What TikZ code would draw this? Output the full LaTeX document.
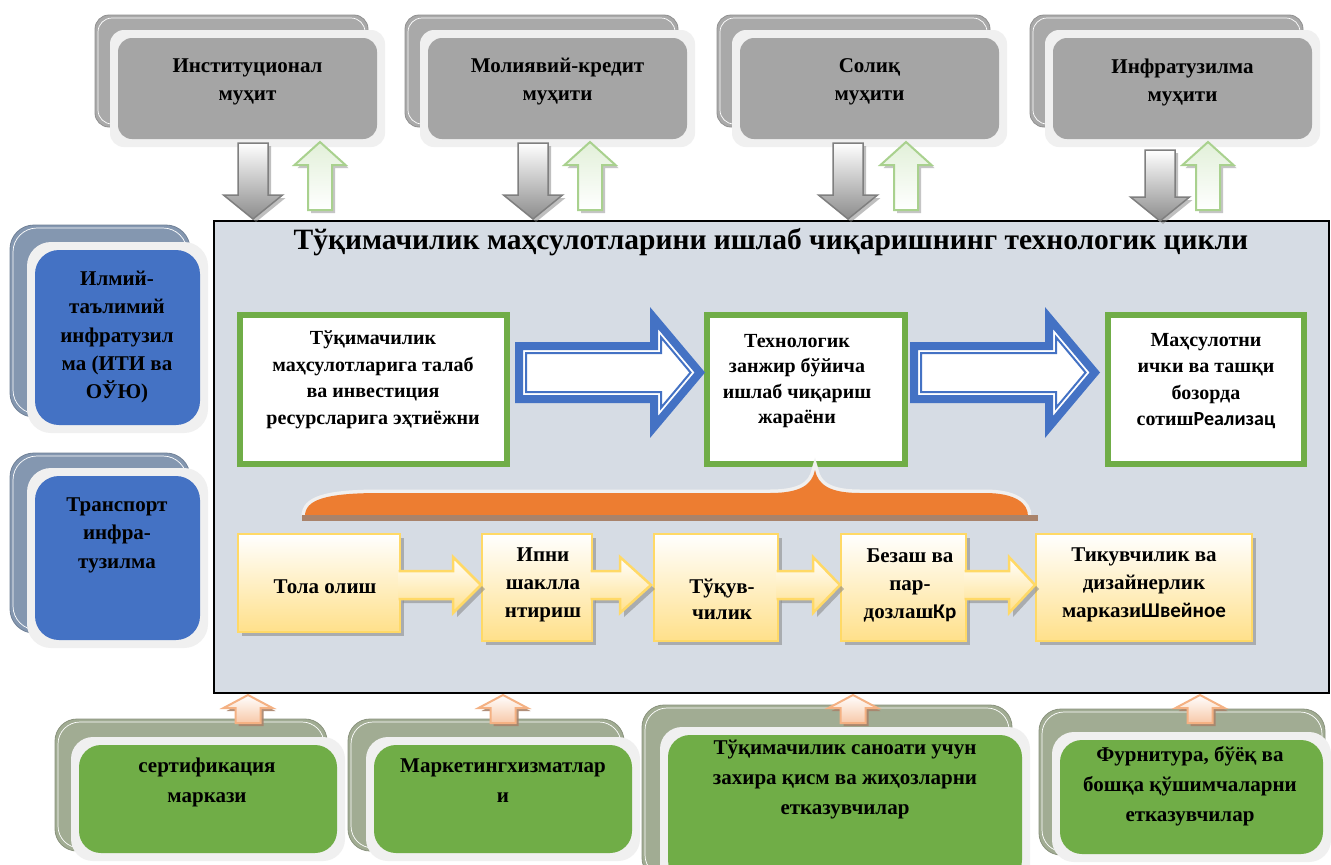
\documentclass[tikz,border=0pt]{standalone}
\usepackage{fontspec}
\setmainfont{Liberation Serif}
\newfontfamily\sanf{Carlito}
\usetikzlibrary{shadows}
\definecolor{grayback}{HTML}{A9A9A9}
\definecolor{graybox}{HTML}{A5A5A5}
\definecolor{frame}{HTML}{F0F0F0}
\definecolor{bluebox}{HTML}{4472C4}
\definecolor{blueback}{HTML}{8497B0}
\definecolor{greenbox}{HTML}{70AD47}
\definecolor{greenback}{HTML}{A1AC93}
\definecolor{panel}{HTML}{D6DCE4}
\definecolor{orangebr}{HTML}{ED7D31}
\definecolor{brownsh}{HTML}{A9836B}
\definecolor{yellowedge}{HTML}{FFD966}
\definecolor{yellowfill}{HTML}{FFE08A}
\definecolor{lightgreen}{HTML}{A9D18E}
\definecolor{palegreen}{HTML}{E2F0D9}
\definecolor{peach}{HTML}{F4B183}
\definecolor{arrgray}{HTML}{7F7F7F}
\newcommand\Stack[9]{%
  \draw[fill=#9back, draw=#9back!85!black, line width=0.8pt, rounded corners=\StackR] (#1,#2) rectangle (#3,#4);
  \draw[white, line width=0.7pt, rounded corners=\StackR] ({#1+3},{#2+3}) rectangle ({#3-3},{#4-3});
  \fill[frame, rounded corners=\StackR] (#5,#6) rectangle (#7,#8);
  \fill[#9box, rounded corners=\StackR] ({#5+8},{#6+8}) rectangle ({#7-8},{#8-8});
}
\newcommand\VArrow[7]{%
  \draw[#7] ({#1-#5},#2) -- ({#1-#5},#3) -- ({#1-#6},#3) -- (#1,#4) -- ({#1+#6},#3) -- ({#1+#5},#3) -- ({#1+#5},#2) -- cycle;
}
\newcommand\YArr[3]{%
  \draw[yarr] (#1,571) -- (#2,571) -- (#2,557) -- (#3,585) -- (#2,613) -- (#2,599) -- (#1,599);
}
\begin{document}
\begin{tikzpicture}[x=1pt,y=-1pt,
  txt/.style={font=\bfseries\fontsize{20}{28}\selectfont, align=center, text=black, inner sep=0pt},
  toptxt/.style={txt, font=\bfseries\fontsize{21}{28}\selectfont},
  bigtxt/.style={txt, font=\bfseries\fontsize{21}{28.5}\selectfont},
  bottxt/.style={txt, font=\bfseries\fontsize{21}{30}\selectfont},
  gbox/.style={draw=greenbox, line width=6pt, fill=white, inner sep=0pt},
  ybox/.style={draw=yellowedge, line width=2.5pt, top color=white, bottom color=yellowfill, inner sep=0pt,
    drop shadow={shadow xshift=4pt, shadow yshift=-4pt, fill=black!45, opacity=0.6}},
  yarr/.style={draw=yellowedge, line width=2.5pt, top color=white, bottom color=yellowfill,
    drop shadow={shadow xshift=4pt, shadow yshift=-4pt, fill=black!45, opacity=0.6}},
  darr/.style={draw=arrgray, line width=1.5pt, top color=white, bottom color=black!45,
    drop shadow={shadow xshift=3pt, shadow yshift=-3pt, fill=black!50, opacity=0.5}},
  uarr/.style={draw=lightgreen, line width=2pt, top color=palegreen, bottom color=white,
    drop shadow={shadow xshift=3pt, shadow yshift=-3pt, fill=black!45, opacity=0.5}},
  oarr/.style={draw=peach, line width=2pt, top color=white, bottom color=peach!70,
    drop shadow={shadow xshift=3pt, shadow yshift=-3pt, fill=brownsh, opacity=0.9}},
  barrow/.style={draw=bluebox, line join=miter}
]
\useasboundingbox (0,0) rectangle (1331,865);
\fill[white] (0,0) rectangle (1331,865);

% central panel
\node[draw=black, line width=2pt, fill=panel, minimum width=1115pt, minimum height=472pt, inner sep=0pt, anchor=north west] (panel) at (213,220) {};
\node[txt, font=\bfseries\fontsize{29.5}{32}\selectfont] (title) at (771,242) {Тўқимачилик маҳсулотларини ишлаб чиқаришнинг технологик цикли};

% top environment boxes
\def\StackR{14pt}
\Stack{95}{15}{368}{127}{110}{30}{385}{147}{gray}
\Stack{405}{15}{678}{127}{420}{30}{695}{147}{gray}
\Stack{717}{15}{990}{127}{732}{30}{1007}{147}{gray}
\Stack{1030}{15}{1303}{127}{1045}{30}{1320}{147}{gray}
\node[toptxt] (inst) at (247.5,82) {Институционал\\муҳит};
\node[toptxt] (moliya) at (557.5,82) {Молиявий-кредит\\муҳити};
\node[toptxt] (soliq) at (869.5,82) {Солиқ\\муҳити};
\node[toptxt] (infra) at (1182.5,82) {Инфратузилма\\муҳити};

% left boxes
\def\StackR{24pt}
\Stack{10}{225}{190}{417}{27}{242}{208}{433}{blue}
\Stack{10}{453}{190}{633}{27}{468}{208}{648}{blue}
\node[bigtxt] (ilmiy) at (117,337) {Илмий-\\таълимий\\инфратузил\\ма (ИТИ ва\\ОЎЮ)};
\node[bigtxt] (transport) at (117,535) {Транспорт\\инфра-\\тузилма};

% bottom boxes
\def\StackR{22pt}
\Stack{55}{719}{327}{851}{71}{737}{345}{861}{green}
\Stack{348}{719}{624}{851}{366}{737}{640}{861}{green}
\Stack{642}{705}{1012}{880}{660}{727}{1030}{890}{green}
\Stack{1039}{709}{1325}{855}{1052}{732}{1331}{862}{green}
\node[bottxt] (sert) at (207,782) {сертификация\\маркази};
\node[bottxt] (market) at (503,781) {Маркетингхизматлар\\и};
\node[bottxt] (zaxira) at (845,780) {Тўқимачилик саноати учун\\захира қисм ва жиҳозларни\\етказувчилар};
\node[bottxt] (furn) at (1190,786) {Фурнитура, бўёқ ва\\бошқа қўшимчаларни\\етказувчилар};

% top arrows
\VArrow{253}{143}{195}{219}{15}{29.5}{darr}
\VArrow{320}{210}{165}{142}{12}{25.5}{uarr}
\VArrow{533}{143}{195}{219}{15}{29.5}{darr}
\VArrow{590}{210}{165}{142}{12}{25.5}{uarr}
\VArrow{848}{143}{195}{219}{15}{29.5}{darr}
\VArrow{906}{210}{165}{142}{12}{25.5}{uarr}
\VArrow{1160}{150}{197}{221}{15}{29.5}{darr}
\VArrow{1208}{210}{165}{142}{12}{25.5}{uarr}

% bottom arrows
\VArrow{248}{723}{708}{695}{12.5}{24.5}{oarr}
\VArrow{503}{723}{708}{695}{12.5}{24.5}{oarr}
\VArrow{853}{723}{708}{695}{12.5}{24.5}{oarr}
\VArrow{1200}{723}{708}{695}{12.5}{24.5}{oarr}

% main process boxes
\node[gbox, minimum width=267pt, minimum height=149pt] (boxA) at (373.5,389.5) {};
\node[gbox, minimum width=198pt, minimum height=149pt] (boxB) at (806,389.5) {};
\node[gbox, minimum width=196pt, minimum height=149pt] (boxC) at (1206,389.5) {};
\node[txt, font=\bfseries\fontsize{20}{26.5}\selectfont] (talab) at (373,380) {Тўқимачилик\\маҳсулотларига талаб\\ва инвестиция\\ресурсларига эҳтиёжни};
\node[txt, font=\bfseries\fontsize{20}{25.5}\selectfont] (jarayon) at (797,381) {Технологик\\занжир бўйича\\ишлаб чиқариш\\жараёни};
\node[txt, font=\bfseries\fontsize{20}{26.5}\selectfont] (sotish) at (1206,381) {Маҳсулотни\\ички ва ташқи\\бозорда\\сотиш{\sanf Реализац}};

% blue block arrows
\foreach \s in {0,395}{
\begin{scope}[shift={(\s,0)}]
\draw[barrow, line width=8pt, fill=white] (519,346) -- (654,346) -- (654,318) -- (699.8,372.5) -- (654,427) -- (654,399) -- (519,399) -- cycle;
\draw[barrow, line width=2pt] (526,353) -- (661,353) -- (661,337.2) -- (690.6,372.5) -- (661,407.8) -- (661,392) -- (526,392) -- cycle;
\end{scope}}

% brace
\draw[frame, line width=7pt, line join=miter, miter limit=20] (305,516) .. controls (305,500) and (325,493) .. (380,493) -- (770,493) .. controls (800,493) and (812,485) .. (815,470) .. controls (818,485) and (830,493) .. (860,493) -- (985,493) .. controls (1015,493) and (1028,503) .. (1028,516);
\fill[orangebr] (305,516) .. controls (305,500) and (325,493) .. (380,493) -- (770,493) .. controls (800,493) and (812,485) .. (815,470) .. controls (818,485) and (830,493) .. (860,493) -- (985,493) .. controls (1015,493) and (1028,503) .. (1028,516) -- cycle;
\fill[brownsh] (302,515) rectangle (1038,521);

% yellow chain
\node[ybox, minimum width=162pt, minimum height=98pt] (y1) at (319,583) {};
\node[ybox, minimum width=110pt, minimum height=107pt] (y2) at (537,587.5) {};
\node[ybox, minimum width=124pt, minimum height=107pt] (y3) at (716,587.5) {};
\node[ybox, minimum width=125pt, minimum height=107pt] (y4) at (903.5,587.5) {};
\node[ybox, minimum width=216pt, minimum height=107pt] (y5) at (1144,587.5) {};
\YArr{398.5}{453}{481}
\YArr{590.5}{620}{651}
\YArr{776.5}{813}{840}
\YArr{964.5}{1009}{1035}
\node[txt, font=\bfseries\fontsize{21}{28}\selectfont] (tola) at (325,587) {Тола олиш};
\node[txt, font=\bfseries\fontsize{21}{28}\selectfont] (ipni) at (543,585) {Ипни\\шаклла\\нтириш};
\node[txt, font=\bfseries\fontsize{21}{26}\selectfont] (tuquv) at (722,599) {Тўқув-\\чилик};
\node[txt, font=\bfseries\fontsize{21}{28}\selectfont] (bezash) at (910,585) {Безаш ва\\пар-\\дозлаш{\sanf Кр}};
\node[txt, font=\bfseries\fontsize{21}{28}\selectfont] (tikuv) at (1144,585) {Тикувчилик ва\\дизайнерлик\\маркази{\sanf Швейное}};
\end{tikzpicture}
\end{document}
